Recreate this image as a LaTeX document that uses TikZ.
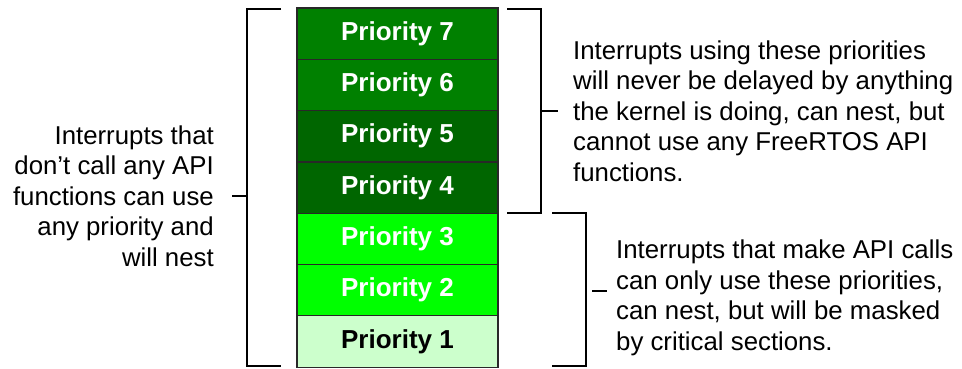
\documentclass[tikz,border=0pt]{standalone}
\usepackage{fontspec}
\setmainfont{Liberation Sans}
\definecolor{gmid}{RGB}{0,128,0}
\definecolor{gdark}{RGB}{0,102,0}
\definecolor{gbright}{RGB}{0,255,0}
\definecolor{glight}{RGB}{204,255,204}
\definecolor{edge}{RGB}{40,40,40}
\begin{document}
\begin{tikzpicture}[x=1pt,y=-1pt,
  prio/.style={draw=edge,line width=1.2pt,minimum width=201pt,minimum height=51.3pt,
    inner sep=0pt,font=\fontsize{26}{30}\selectfont\bfseries,text=white},
  brk/.style={draw=black,line width=1.5pt},
  note/.style={font=\fontsize{25.8}{30.5}\selectfont,inner sep=0pt}]
\useasboundingbox (0,0) rectangle (962,368);
\node[prio,fill=gmid]    (p7) at (397.5,33.65)  {Priority 7};
\node[prio,fill=gmid]    (p6) at (397.5,84.95)  {Priority 6};
\node[prio,fill=gdark]   (p5) at (397.5,136.25) {Priority 5};
\node[prio,fill=gdark]   (p4) at (397.5,187.55) {Priority 4};
\node[prio,fill=gbright] (p3) at (397.5,238.85) {Priority 3};
\node[prio,fill=gbright] (p2) at (397.5,290.15) {Priority 2};
\node[prio,fill=glight,text=black] (p1) at (397.5,341.45) {Priority 1};
% left bracket
\coordinate (la) at (281,9);
\coordinate (lb) at (247,9);
\coordinate (lc) at (247,366);
\coordinate (ld) at (281,366);
\coordinate (lt) at (247,196);
\coordinate (lte) at (232,196);
\draw[brk] (la) -- (lb) -- (lc) -- (ld);
\draw[brk] (lt) -- (lte);
% upper right bracket
\coordinate (ua) at (507,9);
\coordinate (ub) at (541,9);
\coordinate (uc) at (541,213);
\coordinate (ud) at (507,213);
\coordinate (ut) at (541,111);
\coordinate (ute) at (558,111);
\draw[brk] (ua) -- (ub) -- (uc) -- (ud);
\draw[brk] (ut) -- (ute);
% lower right bracket
\coordinate (ra) at (552,213);
\coordinate (rb) at (586,213);
\coordinate (rc) at (586,366);
\coordinate (rd) at (552,366);
\coordinate (rt) at (592,291);
\coordinate (rte) at (607,291);
\draw[brk] (ra) -- (rb) -- (rc) -- (rd);
\draw[brk] (rt) -- (rte);
% texts
\node[note,align=right,anchor=east] (tl) at (214,196)
  {Interrupts that\\don’t call any API\\functions can use\\any priority and\\will nest};
\node[note,align=left,anchor=west] (tu) at (573,111)
  {Interrupts using these priorities\\will never be delayed by anything\\the kernel is doing, can nest, but\\cannot use any FreeRTOS API\\functions.};
\node[note,align=left,anchor=west] (tr) at (616,298)
  {Interrupts that make API calls\\can only use these priorities,\\can nest, but will be masked\\by critical sections.};
\end{tikzpicture}
\end{document}
